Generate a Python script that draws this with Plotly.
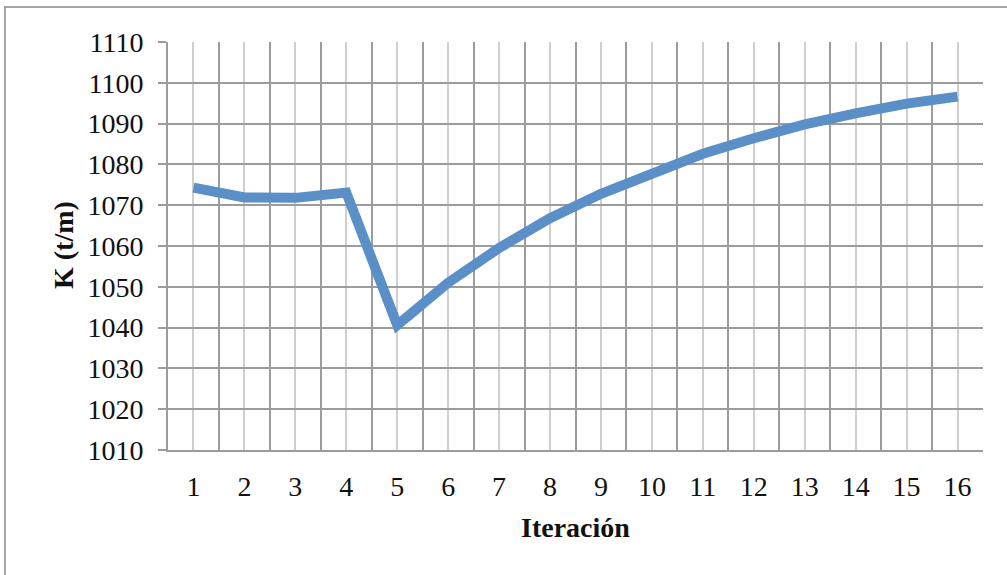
import plotly.graph_objects as go

# Stiffness K per iteration
iteraciones = list(range(1, 17))
k_values = [1074.3, 1071.9, 1071.8, 1073.1, 1040.6, 1051.0, 1059.5, 1066.8,
            1072.8, 1077.6, 1082.6, 1086.4, 1089.8, 1092.5, 1094.9, 1096.6]
y_ticks = list(range(1010, 1111, 10))

W, H = 1007, 575
L, R, T, B = 168, 24, 42, 125
pw, ph = W - L - R, H - T - B

FONT = "Liberation Serif"
DARK = "#9c9c9c"
LIGHT = "#cfcfcf"

fig = go.Figure()
fig.add_trace(go.Scatter(
    x=iteraciones, y=k_values, mode="lines",
    line=dict(color="#5b8fc8", width=10),
    hoverinfo="skip", showlegend=False,
))

fig.update_layout(
    width=W, height=H,
    margin=dict(l=L, r=R, t=T, b=B),
    paper_bgcolor="white", plot_bgcolor="white",
    font=dict(family=FONT, size=28, color="#111"),
    xaxis=dict(
        range=[0.5, 16.5], tickmode="array", tickvals=iteraciones,
        ticktext=[str(i) for i in iteraciones],
        showgrid=True, gridcolor=LIGHT, gridwidth=2,
        minor=dict(tick0=0.5, dtick=1, showgrid=True, gridcolor=DARK, gridwidth=2, ticks=""),
        ticks="", showline=True, linecolor=DARK, linewidth=2,
        zeroline=False, ticklabelstandoff=10,
    ),
    yaxis=dict(
        range=[1010, 1110], tickmode="array", tickvals=y_ticks,
        showgrid=True, gridcolor=DARK, gridwidth=2,
        ticks="outside", ticklen=8, tickcolor=DARK, tickwidth=2,
        showline=True, linecolor=DARK, linewidth=2,
        zeroline=False, ticklabelstandoff=9,
    ),
)

# axis titles
fig.add_annotation(text="<b>Iteración</b>", xref="paper", yref="paper",
                   x=(575 - L) / pw, y=-(527 - (T + ph)) / ph,
                   showarrow=False, font=dict(family=FONT, size=28),
                   xanchor="center", yanchor="middle")
fig.add_annotation(text="<b>K (t/m)</b>", xref="paper", yref="paper",
                   x=(63 - L) / pw, y=1 - (245 - T) / ph, textangle=-90,
                   showarrow=False, font=dict(family=FONT, size=28),
                   xanchor="center", yanchor="middle")

# chart frame (top and left edges visible)
fig.add_shape(type="rect", xref="paper", yref="paper",
              x0=(5 - L) / pw, x1=(W + 20 - L) / pw,
              y0=-(H + 20 - (T + ph)) / ph, y1=1 + (T - 7) / ph,
              line=dict(color="#a6a6a6", width=2), layer="below")

fig.write_html("out.html")
